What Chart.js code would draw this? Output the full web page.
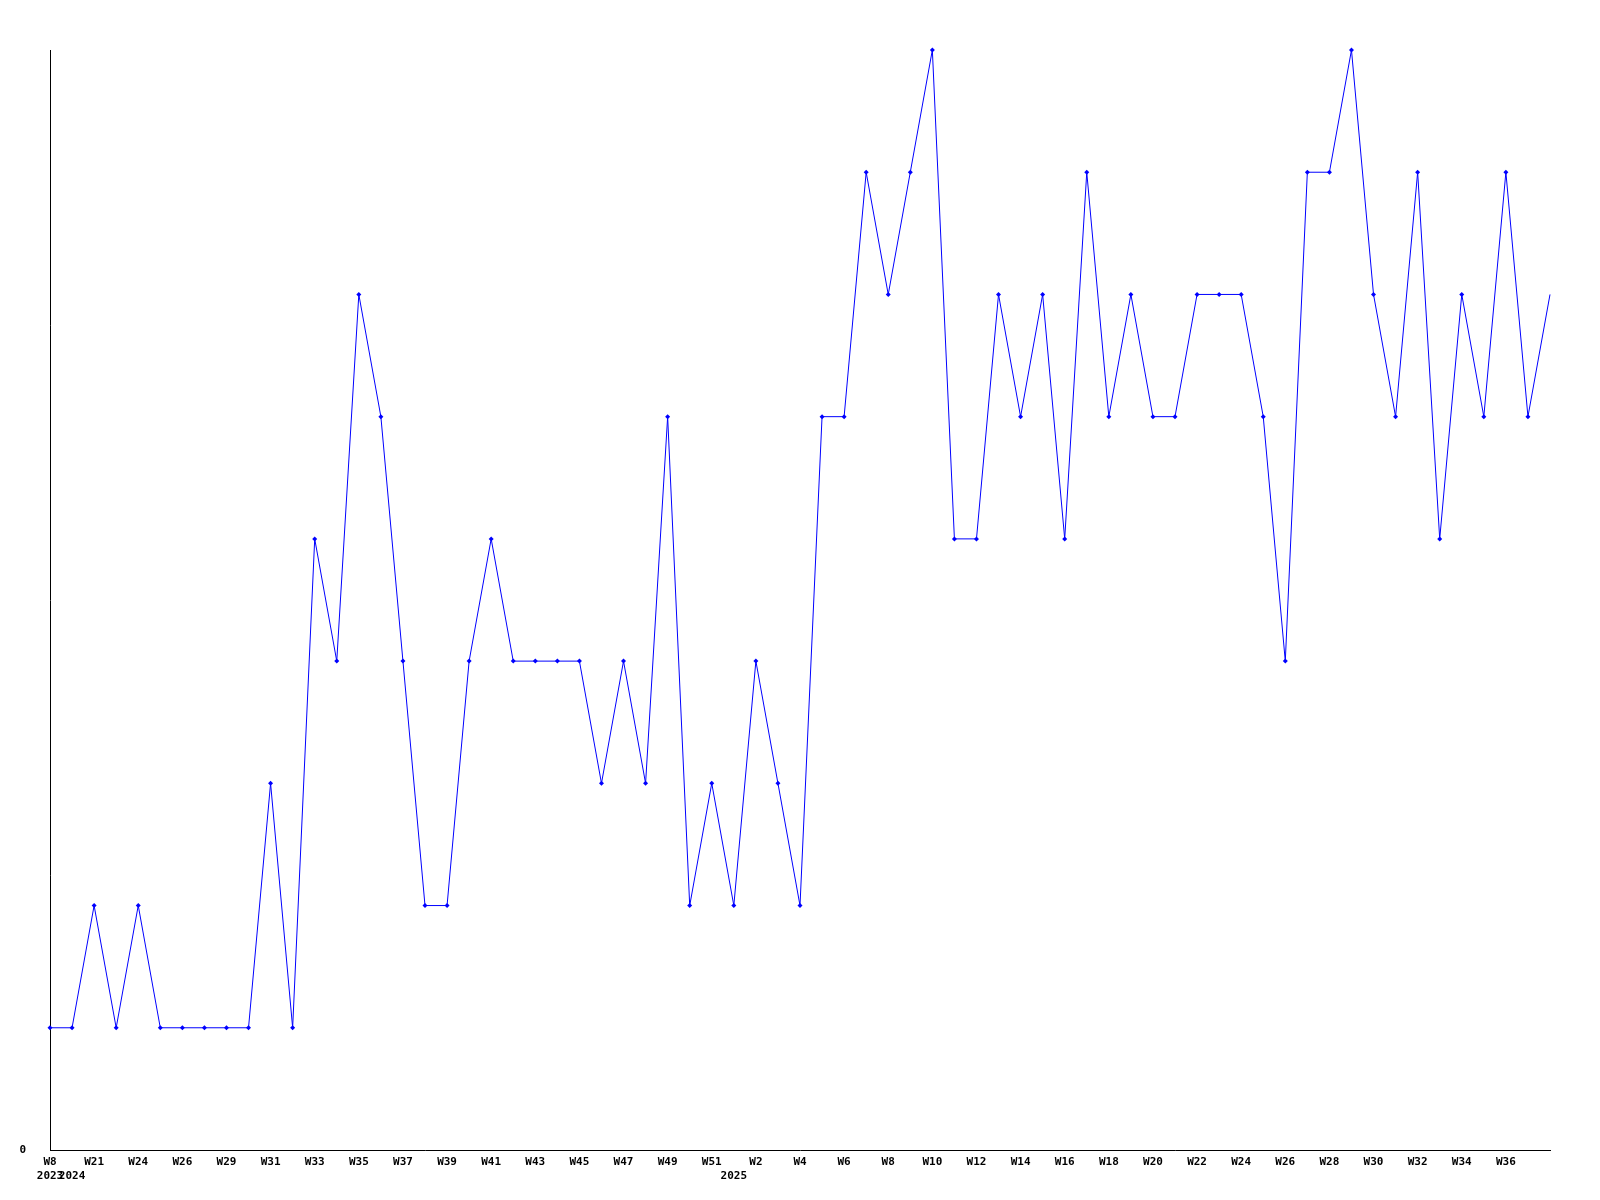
<!DOCTYPE html>
<html>
<head>
<meta charset="utf-8">
<script src="https://cdn.jsdelivr.net/npm/chart.js@4.4.1/dist/chart.umd.min.js"></script>
<style>
  html, body { margin: 0; padding: 0; background: #fff; }
  #wrap { width: 1600px; height: 1200px; }
</style>
</head>
<body>
<div id="wrap"><canvas id="chart" width="1600" height="1200"></canvas></div>
<script>
// weeks along the x axis (only every other one is printed)
const weeks = [
  'W8', 'W20', 'W21', 'W23', 'W24', 'W25', 'W26', 'W28', 'W29', 'W30',
  'W31', 'W32', 'W33', 'W34', 'W35', 'W36', 'W37', 'W38', 'W39', 'W40',
  'W41', 'W42', 'W43', 'W44', 'W45', 'W46', 'W47', 'W48', 'W49', 'W50',
  'W51', 'W1', 'W2', 'W3', 'W4', 'W5', 'W6', 'W7', 'W8', 'W9',
  'W10', 'W11', 'W12', 'W13', 'W14', 'W15', 'W16', 'W17', 'W18', 'W19',
  'W20', 'W21', 'W22', 'W23', 'W24', 'W25', 'W26', 'W27', 'W28', 'W29',
  'W30', 'W31', 'W32', 'W33', 'W34', 'W35', 'W36', 'W37', 'W38'
];
const years = [
  2023, 2024, 2024, 2024, 2024, 2024, 2024, 2024, 2024, 2024,
  2024, 2024, 2024, 2024, 2024, 2024, 2024, 2024, 2024, 2024,
  2024, 2024, 2024, 2024, 2024, 2024, 2024, 2024, 2024, 2024,
  2024, 2025, 2025, 2025, 2025, 2025, 2025, 2025, 2025, 2025,
  2025, 2025, 2025, 2025, 2025, 2025, 2025, 2025, 2025, 2025,
  2025, 2025, 2025, 2025, 2025, 2025, 2025, 2025, 2025, 2025,
  2025, 2025, 2025, 2025, 2025, 2025, 2025, 2025, 2025
];
const counts = [
  1, 1, 2, 1, 2, 1, 1, 1, 1, 1,
  3, 1, 5, 4, 7, 6, 4, 2, 2, 4,
  5, 4, 4, 4, 4, 3, 4, 3, 6, 2,
  3, 2, 4, 3, 2, 6, 6, 8, 7, 8,
  9, 5, 5, 7, 6, 7, 5, 8, 6, 7,
  6, 6, 7, 7, 7, 6, 4, 8, 8, 9,
  7, 6, 8, 5, 7, 6, 8, 6, 7
];
const yTicks = [0];

const font = { family: '"DejaVu Sans Mono", monospace', size: 11, weight: 'bold' };
const last = weeks.length - 1;

new Chart(document.getElementById('chart').getContext('2d'), {
  type: 'line',
  data: {
    labels: weeks,
    datasets: [{
      data: counts,
      borderColor: '#0000ff',
      backgroundColor: '#0000ff',
      borderWidth: 1,
      tension: 0,
      clip: false,
      pointStyle: 'rectRot',
      pointRadius: ctx => ctx.dataIndex === last ? 0 : 2.5,
      pointBorderWidth: 0,
      pointBackgroundColor: '#0000ff'
    }]
  },
  options: {
    responsive: false,
    animation: false,
    layout: { padding: { top: 50, right: 50, left: 0, bottom: 0 } },
    plugins: { legend: { display: false }, tooltip: { enabled: false } },
    scales: {
      x: {
        offset: false,
        grid: { display: false, drawTicks: false },
        border: { display: true, color: '#000', width: 1 },
        afterFit: s => { s.height = 50; },
        ticks: {
          autoSkip: false,
          maxRotation: 0,
          minRotation: 0,
          padding: 6,
          color: '#000',
          font: font,
          callback: function (v, i) {
            const w = (i % 2 === 0 && i !== last) ? weeks[i] : '';
            const newYear = i === 0 || years[i] !== years[i - 1];
            if (newYear) return [w, String(years[i])];
            return w;
          }
        }
      },
      y: {
        min: 0,
        max: 9,
        grid: { display: false, drawTicks: false },
        border: { display: true, color: '#000', width: 1 },
        afterFit: s => { s.width = 50; },
        ticks: {
          stepSize: 1,
          padding: 24,
          color: '#000',
          font: font,
          callback: v => yTicks.includes(v) ? String(v) : ''
        }
      }
    }
  }
});
</script>
</body>
</html>
